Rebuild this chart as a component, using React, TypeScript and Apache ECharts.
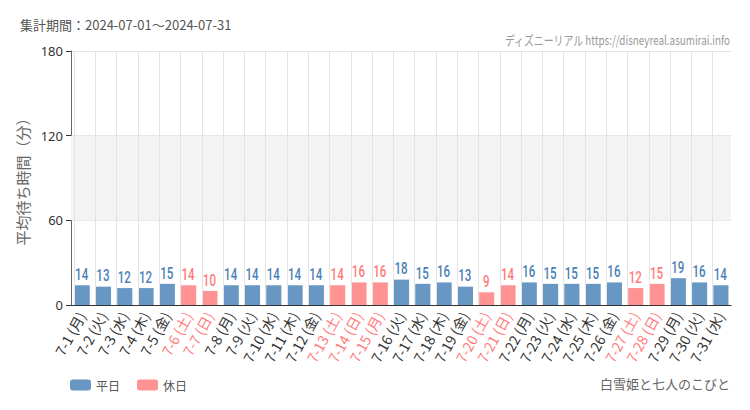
import React, { useEffect, useRef } from "react";
import * as echarts from "echarts";

const dates = ["7-1","7-2","7-3","7-4","7-5","7-6","7-7","7-8","7-9","7-10","7-11","7-12","7-13","7-14","7-15","7-16","7-17","7-18","7-19","7-20","7-21","7-22","7-23","7-24","7-25","7-26","7-27","7-28","7-29","7-30","7-31"];
const weekdays = ["月","火","水","木","金","土","日","月","火","水","木","金","土","日","月","火","水","木","金","土","日","月","火","水","木","金","土","日","月","火","水"];
const holidays = ["7-6","7-7","7-13","7-14","7-15","7-20","7-21","7-27","7-28"];
const waitTimes = [14,13,12,12,15,14,10,14,14,14,14,14,14,16,16,18,15,16,13,9,14,16,15,15,15,16,12,15,19,16,14];
const yTicks = [0, 60, 120, 180];

const BLUE = "#6897c4";
const BLUE_TXT = "#4a7fb5";
const RED = "#ff9292";
const RED_TXT = "#ff7a7a";
const JP = "'Noto Sans CJK JP', 'Noto Sans', sans-serif";
const NUM = "Roboto, 'Noto Sans', sans-serif";

export default function App() {
  const ref = useRef<HTMLDivElement>(null);
  useEffect(() => {
    if (!ref.current) return;
    const chart = echarts.init(ref.current, null, { renderer: "svg" });
    const isHol = (i: number) => holidays.includes(dates[i]);
    const cats = dates.map((d, i) => ({
      value: `${d} (${weekdays[i]})`,
      textStyle: { color: isHol(i) ? RED_TXT : "#333" },
    }));
    const weekdayData = waitTimes.map((v, i) => (isHol(i) ? null : v));
    const holidayData = waitTimes.map((v, i) => (isHol(i) ? v : null));
    const labelData = waitTimes.map((v, i) => [i, v, isHol(i) ? 1 : 0]);
    chart.setOption({
      animation: false,
      textStyle: { fontFamily: JP },
      grid: { left: 71, right: 19, top: 51, bottom: 105 },
      legend: {
        left: 65,
        top: 374,
        itemWidth: 21,
        itemHeight: 11,
        itemGap: 17,
        textStyle: { color: "#555", fontSize: 12, fontFamily: JP },
        data: ["平日", "休日"],
      },
      graphic: [
        {
          type: "text",
          left: 20,
          top: 18,
          style: { text: "集計期間：2024-07-01～2024-07-31", fill: "#555", fontSize: 13, fontFamily: JP },
        },
        {
          type: "text",
          x: 730,
          y: 39,
          scaleX: 0.76,
          style: {
            text: "ディズニーリアル https://disneyreal.asumirai.info",
            fill: "#999",
            fontSize: 13,
            fontFamily: JP,
            textAlign: "right",
            textVerticalAlign: "middle",
          },
        },
        {
          type: "text",
          right: 20,
          top: 377,
          style: { text: "白雪姫と七人のこびと", fill: "#666", fontSize: 13, fontFamily: JP },
        },
      ],
      xAxis: {
        type: "category",
        data: cats,
        axisLine: { lineStyle: { color: "#333" } },
        axisTick: { alignWithLabel: true, lineStyle: { color: "#333" }, length: 5 },
        axisLabel: { rotate: 61, fontSize: 14, interval: 0, margin: 8, fontFamily: JP },
        splitLine: { show: false },
      },
      yAxis: {
        type: "value",
        min: yTicks[0],
        max: yTicks[yTicks.length - 1],
        interval: 60,
        name: "平均待ち時間（分）",
        nameLocation: "middle",
        nameGap: 32,
        nameTextStyle: { color: "#666", fontSize: 15, fontFamily: JP },
        axisLine: { show: true, lineStyle: { color: "#666" } },
        axisTick: { show: true, length: 5, lineStyle: { color: "#333" } },
        axisLabel: { color: "#333", fontSize: 13, fontFamily: "'Noto Sans', sans-serif" },
        splitLine: { lineStyle: { color: "#e3e3e3" } },
      },
      series: [
        {
          name: "_grid",
          type: "bar",
          data: [],
          z: 1,
          silent: true,
          markArea: {
            silent: true,
            itemStyle: { color: "#f3f3f3" },
            data: [[{ yAxis: 60 }, { yAxis: 120 }]],
          },
          markLine: {
            silent: true,
            symbol: ["none", "none"],
            label: { show: false },
            lineStyle: { color: "#e3e3e3", type: "solid", width: 1 },
            data: cats.map((c) => ({ xAxis: c.value })),
          },
        },
        {
          name: "平日",
          type: "bar",
          stack: "s",
          z: 3,
          barWidth: "71%",
          data: weekdayData,
          itemStyle: { color: BLUE },
        },
        {
          name: "休日",
          type: "bar",
          stack: "s",
          z: 3,
          barWidth: "71%",
          data: holidayData,
          itemStyle: { color: RED },
        },
        {
          name: "_labels",
          type: "custom",
          z: 4,
          silent: true,
          data: labelData,
          renderItem: (params: any, api: any) => {
            const v = api.value(1);
            const p = api.coord([api.value(0), v]);
            return {
              type: "text",
              x: p[0],
              y: p[1] - 2,
              scaleX: 0.68,
              style: {
                text: String(v),
                fill: api.value(2) === 1 ? RED_TXT : BLUE_TXT,
                fontSize: 17,
                fontWeight: 500,
                fontFamily: NUM,
                textAlign: "center",
                textVerticalAlign: "bottom",
              },
            };
          },
        },
      ],
    });
    return () => chart.dispose();
  }, []);
  return <div ref={ref} style={{ width: 750, height: 410, margin: -8 }} />;
}
